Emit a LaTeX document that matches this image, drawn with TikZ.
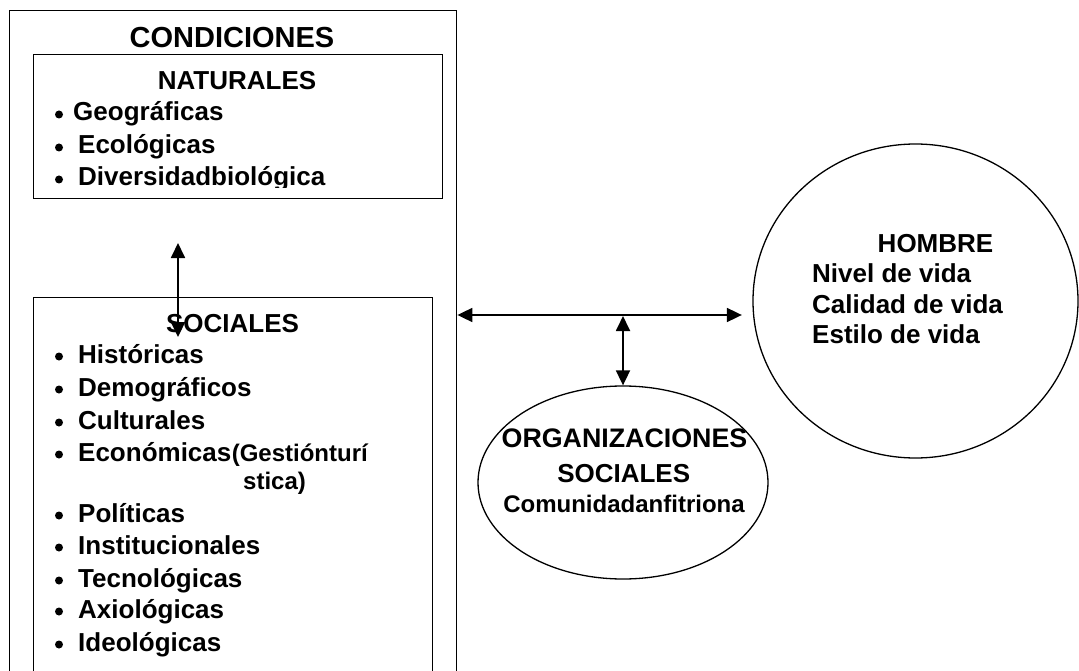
\documentclass[tikz,border=0pt]{standalone}
\usepackage{fontspec}
\setmainfont{Liberation Sans}
\usetikzlibrary{arrows.meta}
\usetikzlibrary{positioning,shapes.geometric}

\begin{document}
\begin{tikzpicture}[x=1pt,y=-1pt,
			box/.style = {draw, line width=1.4pt, rectangle, anchor=north west, inner sep=0pt},
			oval/.style = {draw, line width=1.3pt, ellipse, inner sep=0pt},
			txt/.style = {inner sep=0pt, anchor=base, font=\bfseries\fontsize{26}{30}\selectfont},
			sml/.style = {txt, font=\bfseries\fontsize{24}{26}\selectfont},
			itm/.style = {txt, anchor=base west},
			La/.style = {draw, line width=1.8pt,
				{Triangle[length=15pt, width=14pt]}-{Triangle[length=15pt, width=14pt]}},
			]
		\useasboundingbox (0,0) rectangle (1079,671);
		\clip (0,0) rectangle (1079,671);
		
					% boxes (they run on below the page)
					\node[box, minimum width=447pt, minimum height=700pt] (cond) at (9,10) {};
					\node[box, minimum width=409pt, minimum height=144pt] (nat) at (33,54) {};
					\node[box, minimum width=399pt, minimum height=420pt] (soc) at (33,297) {};
					
					\node[txt, font=\bfseries\fontsize{29}{32}\selectfont] (tcond) at (232,48) {CONDICIONES};
					\node[txt] (tnat) at (237,90) {NATURALES};
					\node[txt] (tsoc) at (232.5,332) {SOCIALES};
					
					\begin{scope}
					\clip (nat.north west) rectangle (442,188);    % <---
					\foreach \y/\x/\t [count=\i] in {121/73/Geográficas, 154/78/Ecológicas, 186/78/Diversidadbiológica}
					{\node[itm] (n\i) at (\x,\y) {\t};
					\fill (59,\y-6.5) circle[radius=4pt];} % bullets
					\end{scope}
					
					\foreach \y/\t [count=\i] in {363/Históricas, 396/Demográficos, 429/Culturales, 461/Económicas,
						522/Políticas, 554/Institucionales, 587/Tecnológicas, 618/Axiológicas, 651/Ideológicas}
					{\node[itm] (s\i) at (78,\y) {\t};
					\fill (59,\y-6.5) circle[radius=4pt];} % bullets
					\node[sml, anchor=base west] (gest) at (s4.base east) {(Gestiónturí};
					\node[sml, anchor=base west] (stica) at (243,489) {stica)};
					
					% HOMBRE
					\node[oval, minimum width=325pt, minimum height=314pt] (hom) at (915.5,301) {};
					\node[txt] (thom) at (935.5,253) {HOMBRE};
					\foreach \y/\t [count=\i] in {283/Nivel de vida, 313/Calidad de vida, 343/Estilo de vida}
					\node[itm] (h\i) at (812,\y) {\t};
					
					% ORGANIZACIONES SOCIALES
					\node[oval, minimum width=290pt, minimum height=193pt] (org) at (623,482.5) {};
					\node[txt, font=\bfseries\fontsize{26.8}{30}\selectfont] (torg) at (624.5,447) {ORGANIZACIONES};
					\node[txt] (torg2) at (623.7,482) {SOCIALES};
					\node[sml] (com) at (624,512) {Comunidadanfitriona};
					
					\coordinate (ns1) at (178,243);
					\coordinate (ns2) at (178,337);
					\coordinate (mid) at (org.north |- 0,316);
					
					\draw[La] (ns1) to (ns2);
					\draw[La, shorten >=10.5pt] (cond.east |- 0,315) to (hom.west |- 0,315);
					\draw[La] (mid) to (org.north);
					
		\end{tikzpicture}
\end{document}
